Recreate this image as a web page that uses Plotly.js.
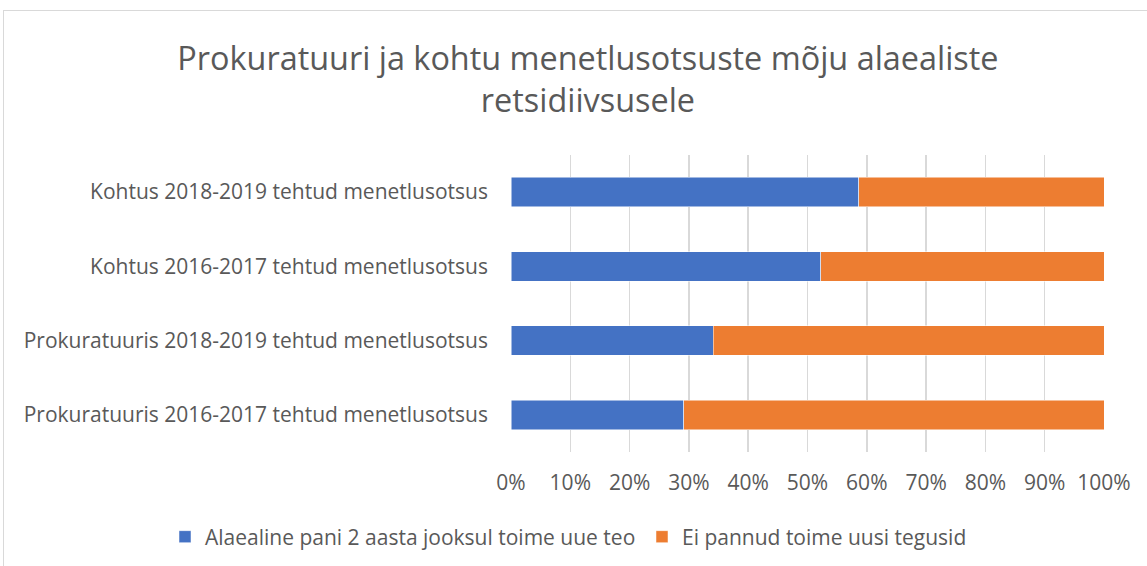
<!DOCTYPE html>
<html>
<head>
<meta charset="utf-8">
<script src="https://cdn.plot.ly/plotly-3.0.1.min.js"></script>
<style>
  html, body { margin: 0; padding: 0; background: #fff; }
  #frame { position: absolute; left: 3px; top: 10px; width: 1150px; height: 560px; border-left: 1px solid #d9d9d9; border-top: 1px solid #d9d9d9; box-sizing: border-box; }
  #chart { position: absolute; left: 0; top: 0; width: 1147px; height: 566px; }
</style>
</head>
<body>
<div id="frame"></div>
<div id="chart"></div>
<script>
const categories = [
  "Kohtus 2018-2019 tehtud menetlusotsus",
  "Kohtus 2016-2017 tehtud menetlusotsus",
  "Prokuratuuris 2018-2019 tehtud menetlusotsus",
  "Prokuratuuris 2016-2017 tehtud menetlusotsus"
];
const seriesNames = ["Alaealine pani 2 aasta jooksul toime uue teo", "Ei pannud toime uusi tegusid"];
const reoffended = [58.6, 52.2, 34.1, 29.1];
const notReoffended = [41.4, 47.8, 65.9, 70.9];
const xTickVals = [0, 10, 20, 30, 40, 50, 60, 70, 80, 90, 100];

const font = "Open Sans, sans-serif";
const grey = "#595959";
const fs = 21;

const traces = [
  { type: "bar", orientation: "h", name: seriesNames[0], y: categories, x: reoffended, legend: "legend",
    marker: { color: "#4472C4", line: { color: "#ffffff", width: 0.5 } }, hoverinfo: "x+y" },
  { type: "bar", orientation: "h", name: seriesNames[1], y: categories, x: notReoffended, legend: "legend2",
    marker: { color: "#ED7D31", line: { color: "#ffffff", width: 0.5 } }, hoverinfo: "x+y" }
];

const legendBase = {
  orientation: "h", xref: "container", yref: "container",
  xanchor: "left", y: 1 - 537 / 566, yanchor: "middle",
  font: { family: font, size: fs, color: grey },
  itemwidth: 30, bgcolor: "rgba(0,0,0,0)"
};

const layout = {
  width: 1147, height: 566,
  paper_bgcolor: "rgba(0,0,0,0)", plot_bgcolor: "rgba(0,0,0,0)",
  margin: { l: 511, r: 43, t: 155, b: 114, autoexpand: false },
  barmode: "stack",
  bargap: 0.6,
  title: {
    text: "Prokuratuuri ja kohtu menetlusotsuste mõju alaealiste<br>retsidiivsusele",
    font: { family: font, size: 32.4, color: grey },
    x: 0.5126, xanchor: "center", y: 0.877, yanchor: "middle", yref: "container"
  },
  xaxis: {
    range: [0, 100], tickvals: xTickVals, ticktext: xTickVals.map(v => v + "%"),
    showgrid: true, gridcolor: "#d9d9d9", gridwidth: 1.5, zeroline: false,
    showline: false, ticks: "", ticklabelstandoff: 16,
    tickfont: { family: font, size: fs, color: grey }, fixedrange: true
  },
  yaxis: {
    autorange: "reversed", showgrid: false, showline: false, ticks: "",
    ticklabelstandoff: 22,
    tickfont: { family: font, size: fs, color: grey }, fixedrange: true
  },
  legend: Object.assign({}, legendBase, { x: 165 / 1147 }),
  legend2: Object.assign({}, legendBase, { x: 642 / 1147 }),
  showlegend: true
};

Plotly.newPlot("chart", traces, layout, { displayModeBar: false, staticPlot: true });
</script>
</body>
</html>
